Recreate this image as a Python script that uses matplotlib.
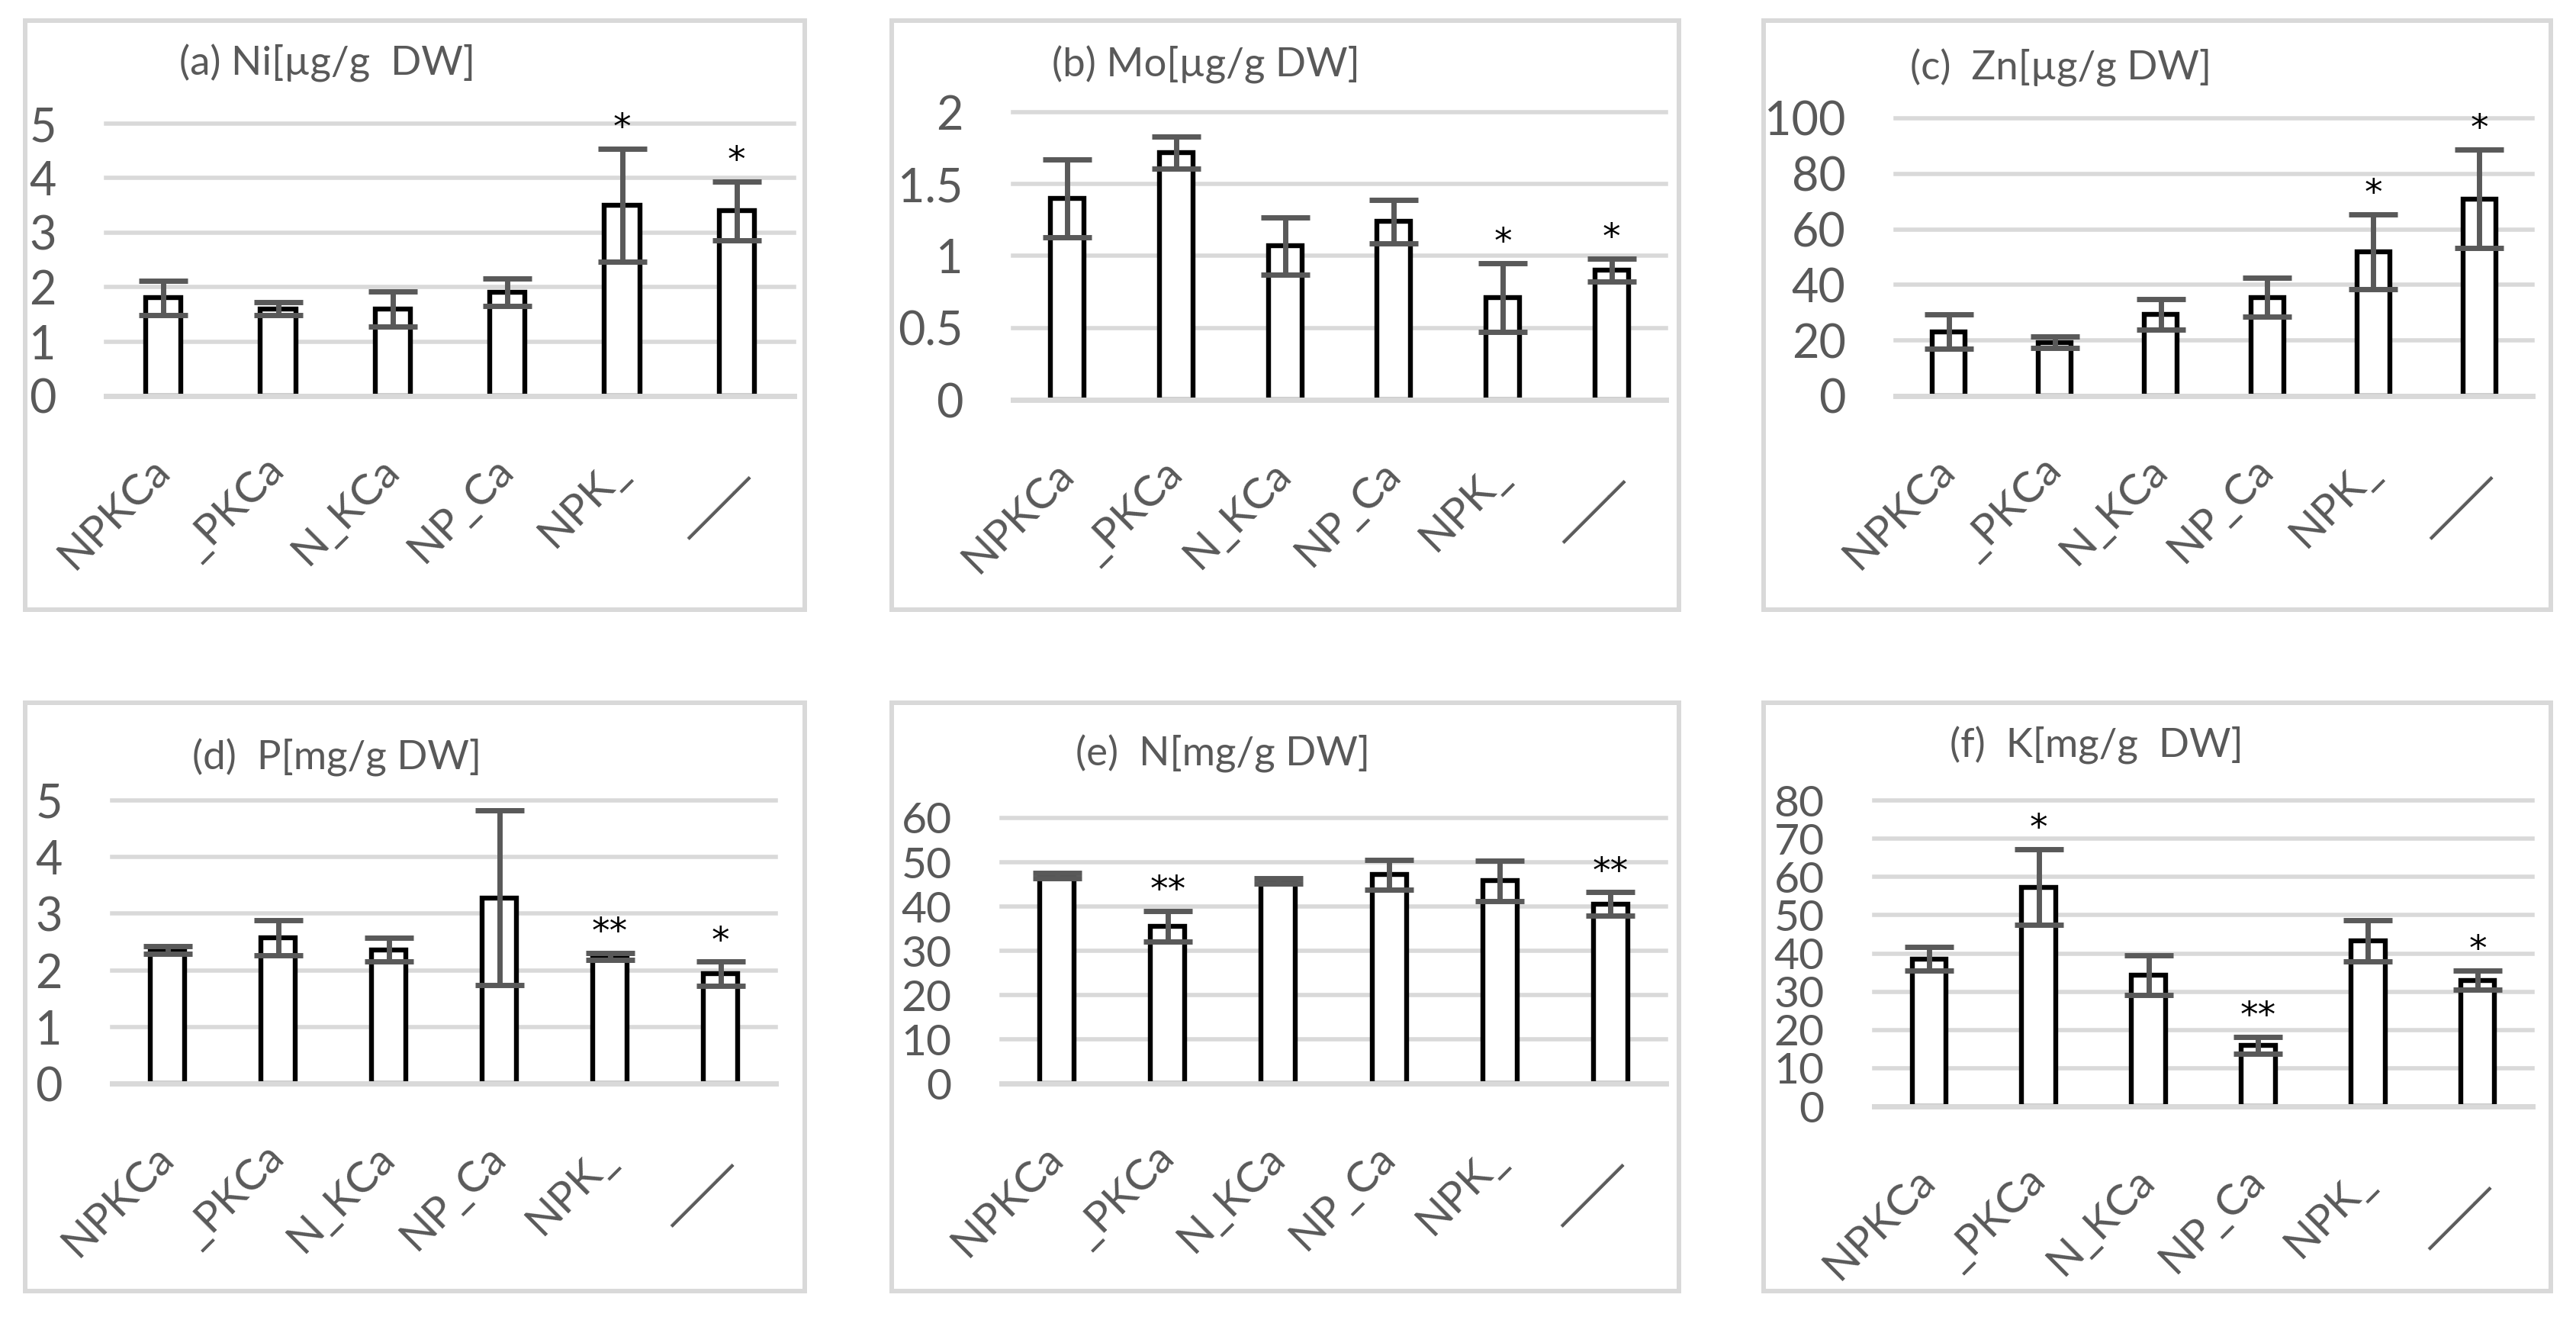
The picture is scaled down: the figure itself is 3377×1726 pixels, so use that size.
import matplotlib
matplotlib.use("Agg")
import matplotlib.pyplot as plt
from matplotlib.patches import Rectangle

plt.rcParams['font.family'] = ['Lato', 'DejaVu Sans']

# ---------------- data ----------------
categories = ['NPKCa', '_PKCa', 'N_KCa', 'NP_Ca', 'NPK_', '____']

ni_mean = [1.80, 1.60, 1.60, 1.90, 3.50, 3.40]
ni_sd = [0.32, 0.12, 0.32, 0.25, 1.04, 0.54]
ni_sig = ['', '', '', '', '*', '*']

mo_mean = [1.40, 1.72, 1.07, 1.24, 0.71, 0.90]
mo_sd = [0.27, 0.11, 0.20, 0.15, 0.24, 0.08]
mo_sig = ['', '', '', '', '*', '*']

zn_mean = [23.2, 19.3, 29.4, 35.5, 52.0, 71.0]
zn_sd = [6.3, 2.0, 5.4, 7.0, 13.5, 17.7]
zn_sig = ['', '', '', '', '*', '*']

p_mean = [2.36, 2.57, 2.36, 3.28, 2.24, 1.94]
p_sd = [0.07, 0.31, 0.21, 1.54, 0.06, 0.21]
p_sig = ['', '', '', '', '**', '*']

n_mean = [47.0, 35.5, 45.8, 47.2, 45.8, 40.6]
n_sd = [0.6, 3.4, 0.6, 3.4, 4.6, 2.6]
n_sig = ['', '**', '', '', '', '**']

k_mean = [38.6, 57.3, 34.3, 16.0, 43.3, 33.0]
k_sd = [3.1, 9.9, 5.2, 2.2, 5.3, 2.5]
k_sig = ['', '*', '', '**', '', '*']

titles = ['(a) Ni[µg/g  DW]', '(b) Mo[µg/g DW]', '(c)  Zn[µg/g DW]',
          '(d)  P[mg/g DW]', '(e)  N[mg/g DW]', '(f)  K[mg/g  DW]']

yticks_a = [0, 1, 2, 3, 4, 5]
yticks_b = [0, 0.5, 1, 1.5, 2]
yticklabels_b = ['0', '0.5', '1', '1.5', '2']
yticks_c = [0, 20, 40, 60, 80, 100]
yticks_d = [0, 1, 2, 3, 4, 5]
yticks_e = [0, 10, 20, 30, 40, 50, 60]
yticks_f = [0, 10, 20, 30, 40, 50, 60, 70, 80]

# ---------------- layout (pixels) ----------------
W, H = 3377, 1726
fig = plt.figure(figsize=(W / 100, H / 100), dpi=100)

panel_boxes = [  # x0, y0, x1, y1 (pixels from top-left)
    (33, 27, 1055, 799), (1169, 27, 2201, 799), (2312, 27, 3344, 799),
    (33, 921, 1055, 1692), (1169, 921, 2201, 1692), (2312, 921, 3344, 1692),
]
plot_boxes = [
    (139, 162, 1041, 519), (1328, 147, 2184, 524), (2485, 155, 3320, 519),
    (147, 1049, 1017, 1420), (1313, 1072, 2184, 1420), (2457, 1049, 3320, 1450),
]
title_pos = [(429, 83), (1581, 85), (2702, 89), (442, 993), (1603, 988), (2748, 977)]

GRID = '#d9d9d9'
TXT = '#595959'

panels = [
    (ni_mean, ni_sd, ni_sig, yticks_a, [str(t) for t in yticks_a]),
    (mo_mean, mo_sd, mo_sig, yticks_b, yticklabels_b),
    (zn_mean, zn_sd, zn_sig, yticks_c, [str(t) for t in yticks_c]),
    (p_mean, p_sd, p_sig, yticks_d, [str(t) for t in yticks_d]),
    (n_mean, n_sd, n_sig, yticks_e, [str(t) for t in yticks_e]),
    (k_mean, k_sd, k_sig, yticks_f, [str(t) for t in yticks_f]),
]

for i, (mean, sd, sig, yt, ytl) in enumerate(panels):
    bx0, by0, bx1, by1 = panel_boxes[i]
    fig.patches.append(Rectangle((bx0 / W, 1 - by1 / H), (bx1 - bx0) / W, (by1 - by0) / H,
                                 transform=fig.transFigure, fill=False,
                                 edgecolor=GRID, linewidth=4.3, zorder=0))
    px0, py0, px1, py1 = plot_boxes[i]
    ax = fig.add_axes([px0 / W, 1 - py1 / H, (px1 - px0) / W, (py1 - py0) / H])
    x = list(range(len(categories)))
    ax.bar(x, mean, width=0.31, color='white', edgecolor='black', linewidth=4.6, zorder=2)
    ax.errorbar(x, mean, yerr=sd, fmt='none', ecolor=TXT, elinewidth=5.0,
                capsize=23, capthick=5.0, zorder=4)
    ax.axhline(0, color=GRID, linewidth=5.0, zorder=3, clip_on=False)
    ax.set_xlim(-0.5, len(categories) - 0.5)
    ax.set_ylim(yt[0], yt[-1])
    ax.set_yticks(yt, ytl)
    ax.yaxis.grid(True, color=GRID, linewidth=4.0)
    for gl in ax.get_ygridlines():
        gl.set_clip_on(False)
    ax.set_axisbelow(True)
    for s in ax.spines.values():
        s.set_visible(False)
    ax.set_facecolor('none')
    ysize = 44 if len(yt) <= 6 else 41
    ax.tick_params(axis='y', length=0, pad=47, labelsize=ysize, labelcolor=TXT)
    ax.set_xticks(x, categories, rotation=45, ha='right', va='center', rotation_mode='anchor')
    ax.tick_params(axis='x', length=0, pad=64, labelsize=41, labelcolor=TXT)
    ax.get_xticklabels()[-1].set_fontfamily(['DejaVu Sans'])

    for xi, m, s, lab in zip(x, mean, sd, sig):
        if lab:
            ax.annotate(lab, (xi, m + s), xytext=(0, 10), textcoords='offset points',
                        ha='center', va='baseline', fontsize=34, color='black',
                        family=['DejaVu Sans'], annotation_clip=False, zorder=5)

    tx, ty = title_pos[i]
    fig.text(tx / W, 1 - ty / H, titles[i], ha='center', va='center',
             fontsize=38, color=TXT)

fig.savefig('out.png', dpi=100, facecolor='white')
